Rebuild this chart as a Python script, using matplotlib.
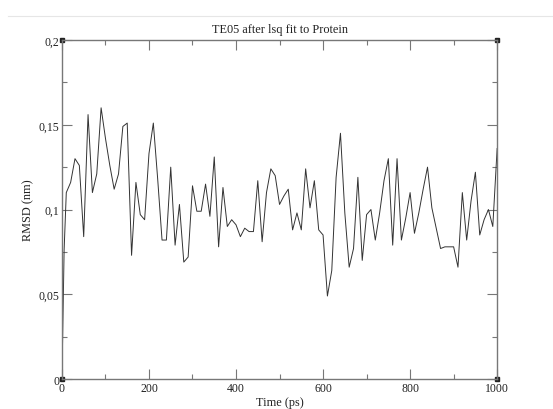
import matplotlib
matplotlib.use('Agg')
import matplotlib.pyplot as plt
from matplotlib.lines import Line2D
from matplotlib.ticker import MultipleLocator, FuncFormatter

# Datos (tiempo en ps, RMSD en nm)
tiempo = [0, 5] + list(range(10, 1001, 10))
rmsd = [
    0.000, 0.076, 0.110, 0.116, 0.130, 0.126, 0.084, 0.156, 0.110, 0.121,
    0.160, 0.142, 0.126, 0.112, 0.121, 0.149, 0.151, 0.073, 0.116, 0.097,
    0.094, 0.133, 0.151, 0.118, 0.082, 0.082, 0.125, 0.079, 0.103, 0.069,
    0.072, 0.114, 0.099, 0.099, 0.115, 0.096, 0.131, 0.078, 0.113, 0.090,
    0.094, 0.091, 0.084, 0.089, 0.087, 0.087, 0.117, 0.081, 0.110, 0.124,
    0.120, 0.103, 0.108, 0.112, 0.088, 0.098, 0.088, 0.124, 0.101, 0.117,
    0.088, 0.085, 0.049, 0.064, 0.119, 0.145, 0.098, 0.066, 0.077, 0.119,
    0.070, 0.097, 0.100, 0.082, 0.098, 0.117, 0.130, 0.079, 0.130, 0.082,
    0.095, 0.110, 0.086, 0.098, 0.112, 0.125, 0.101, 0.089, 0.077, 0.078,
    0.078, 0.078, 0.066, 0.110, 0.082, 0.105, 0.122, 0.085, 0.094, 0.100,
    0.090, 0.136,
]

titulo = 'TE05 after lsq fit to Protein'
etiqueta_x = 'Time (ps)'
etiqueta_y = 'RMSD (nm)'

plt.rcParams['font.family'] = ['Liberation Serif', 'DejaVu Serif']

fig = plt.figure(figsize=(5.53, 4.10), dpi=100)
ax = fig.add_axes([0.112, 0.073, 0.787, 0.827])

ax.plot(tiempo, rmsd, color='#333333', linewidth=0.7)

ax.set_xlim(0, 1000)
ax.set_ylim(0, 0.2)

ax.xaxis.set_major_locator(MultipleLocator(200))
ax.xaxis.set_minor_locator(MultipleLocator(100))
ax.yaxis.set_major_locator(MultipleLocator(0.05))
ax.yaxis.set_minor_locator(MultipleLocator(0.025))


def coma_decimal(v, pos):
    texto = ('%.2f' % v).rstrip('0').rstrip('.')
    return texto.replace('.', ',')


ax.yaxis.set_major_formatter(FuncFormatter(coma_decimal))

gris = '#777777'
for lado in ax.spines.values():
    lado.set_color(gris)
    lado.set_linewidth(1.0)

ax.tick_params(which='both', direction='in', top=True, right=True,
               color=gris, width=0.8, labelsize=8.5, labelcolor='#222222')
ax.tick_params(which='major', length=7)
ax.tick_params(which='minor', length=3.5)
ax.tick_params(axis='y', pad=2)
ax.tick_params(axis='x', pad=2)

# cuadraditos en las esquinas del marco (estilo Grace)
for cx in (0, 1):
    for cy in (0, 1):
        ax.plot(cx, cy, marker='s', markersize=3, color='#222222',
                transform=ax.transAxes, clip_on=False)

ax.set_title(titulo, fontsize=8.8, pad=6, color='#222222')
ax.set_xlabel(etiqueta_x, fontsize=8.8, labelpad=1.5, color='#222222')
ax.set_ylabel(etiqueta_y, fontsize=8.8, labelpad=3, color='#222222')

# linea tenue en la parte superior
fig.add_artist(Line2D([0.015, 1.0], [0.958, 0.958], transform=fig.transFigure,
                      color='#e6e6e6', linewidth=0.8))

fig.savefig('out.png', dpi=100)
